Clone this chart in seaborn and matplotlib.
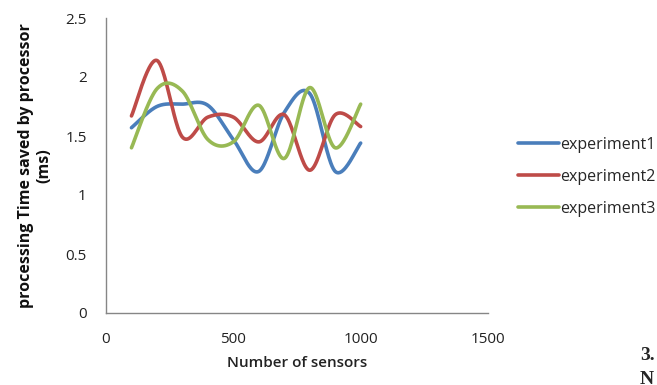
import numpy as np
import pandas as pd
import matplotlib
matplotlib.use("Agg")
import matplotlib.pyplot as plt
import seaborn as sns

# Measurements
sensors = [100, 200, 300, 400, 500, 600, 700, 800, 900, 1000]
experiment1 = [1.57, 1.75, 1.77, 1.76, 1.47, 1.20, 1.70, 1.86, 1.20, 1.44]
experiment2 = [1.67, 2.14, 1.49, 1.66, 1.66, 1.45, 1.68, 1.21, 1.68, 1.58]
experiment3 = [1.40, 1.90, 1.88, 1.47, 1.45, 1.76, 1.31, 1.91, 1.40, 1.77]
series_names = ["experiment1", "experiment2", "experiment3"]
colors = ["#4A7EBB", "#BE4B48", "#98B954"]


def smooth_curve(xs, ys, n=40):
    """Bezier smoothing through every point (control points from neighbours)."""
    pts = np.column_stack([xs, ys]).astype(float)
    padded = np.vstack([pts[0], pts, pts[-1]])
    t = np.linspace(0, 1, n, endpoint=False)[:, None]
    parts = []
    for i in range(1, len(padded) - 2):
        p0, p1, p2, p3 = padded[i - 1:i + 3]
        c1 = p1 + (p2 - p0) / 6
        c2 = p2 - (p3 - p1) / 6
        parts.append((1 - t) ** 3 * p1 + 3 * (1 - t) ** 2 * t * c1
                     + 3 * (1 - t) * t ** 2 * c2 + t ** 3 * p2)
    parts.append(pts[-1:])
    return np.vstack(parts)


frames = []
for name, vals in zip(series_names, [experiment1, experiment2, experiment3]):
    curve = smooth_curve(sensors, vals)
    frames.append(pd.DataFrame({"x": curve[:, 0], "y": curve[:, 1], "series": name,
                                "order": np.arange(len(curve))}))
df = pd.concat(frames, ignore_index=True)

sns.set_theme(style="white")
plt.rcParams["font.family"] = ["Open Sans", "DejaVu Sans"]

fig = plt.figure(figsize=(6.57, 3.85), dpi=100)
ax = fig.add_axes([106 / 657, 1 - 313 / 385, (488 - 106) / 657, (313 - 18) / 385])

sns.lineplot(data=df, x="x", y="y", hue="series", palette=colors, sort=False,
             estimator=None, linewidth=2.6, ax=ax, legend=False)

ax.set_xlim(0, 1500)
ax.set_ylim(0, 2.5)
ax.set_xticks([0, 500, 1000, 1500])
ax.set_yticks([0, 0.5, 1, 1.5, 2, 2.5])
ax.set_xticklabels(["0", "500", "1000", "1500"])
ax.set_yticklabels(["0", "0.5", "1", "1.5", "2", "2.5"])

for side in ["top", "right"]:
    ax.spines[side].set_visible(False)
for side in ["left", "bottom"]:
    ax.spines[side].set_color("#868686")
    ax.spines[side].set_linewidth(1.0)
ax.tick_params(axis="both", which="both", direction="out", length=5, width=1,
               color="#868686", labelsize=11, labelcolor="#222222")
ax.tick_params(axis="x", pad=9)
ax.tick_params(axis="y", pad=9)

ax.set_xlabel("Number of sensors", fontsize=11, fontweight="semibold", labelpad=6,
              color="#222222")
ax.set_ylabel("processing Time saved by processor\n(ms)", fontsize=11.5,
              fontweight="bold", labelpad=9, color="#111111", linespacing=1.25)

handles = [plt.Line2D([], [], color=c, linewidth=2.6) for c in colors]
fig.legend(handles, series_names, loc="center left", bbox_to_anchor=(512 / 657, 1 - 177 / 385),
           frameon=False, fontsize=11.5, handlelength=2.55, handletextpad=0.05,
           labelspacing=1.0, borderaxespad=0)

fig.text(640 / 657, 1 - 355 / 385, "3.", fontsize=14, fontweight="bold",
         family=["Liberation Serif"], va="center", ha="left")
fig.text(640 / 657, 1 - 380 / 385, "N", fontsize=14, fontweight="bold",
         family=["Liberation Serif"], va="center", ha="left")

fig.savefig("out.png", dpi=100)
